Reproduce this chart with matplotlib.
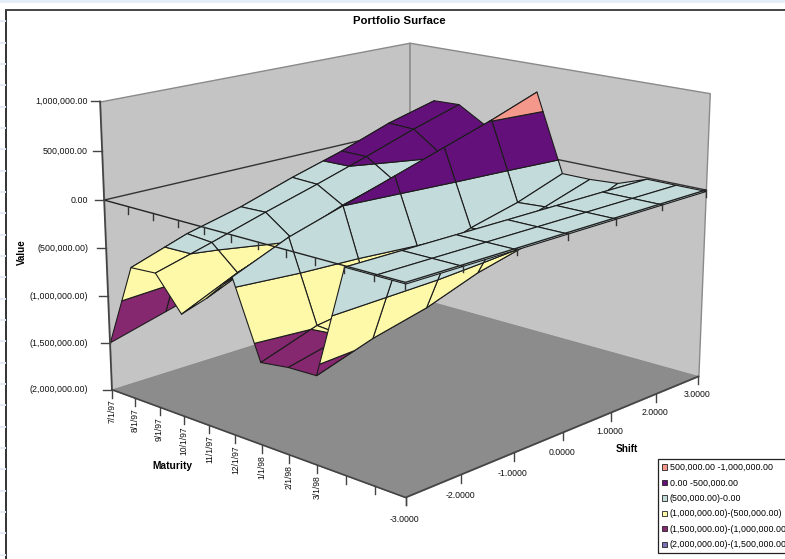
import matplotlib
matplotlib.use('Agg')
import numpy as np
import matplotlib.pyplot as plt
from matplotlib.lines import Line2D
from matplotlib.patches import Patch
from matplotlib.transforms import IdentityTransform
from mpl_toolkits.mplot3d import proj3d
from mpl_toolkits.mplot3d.art3d import Poly3DCollection

plt.rcParams['font.family'] = ['Liberation Sans', 'DejaVu Sans']

W, H = 785, 559

# maturity categories (last three have no label on the axis)
maturity_labels = ['7/1/97', '8/1/97', '9/1/97', '10/1/97', '11/1/97', '12/1/97',
                   '1/1/98', '2/1/98', '3/1/98', '', '', '']
shift_values = [-3, -2, -1, 0, 1, 2, 3]
shift_labels = ['-3.0000', '-2.0000', '-1.0000', '0.0000', '1.0000', '2.0000', '3.0000']
value_ticks = [1.0, 0.5, 0.0, -0.5, -1.0, -1.5, -2.0]
value_labels = ['1,000,000.00', '500,000.00', '0.00', '(500,000.00)',
                '(1,000,000.00)', '(1,500,000.00)', '(2,000,000.00)']

# portfolio value in millions, one row per maturity, shift -3 .. 3
m_jul97 = [-1.49, -1.33, -1.17, -1.00, -0.82, -0.62, -0.40]
m_aug97 = [-0.62, -0.42, -0.28, -0.10, 0.06, 0.25, 0.39]
m_sep97 = [-0.60, -0.44, -0.27, -0.11, 0.06, 0.24, 0.40]
m_oct97 = [-0.94, -0.68, -0.47, -0.27, -0.12, 0.04, 0.23]
m_nov97 = [-0.70, -0.45, -0.25, -0.10, 0.05, 0.20, 0.35]
m_dec97 = [-0.41, -0.17, 0.00, 0.17, 0.34, 0.51, 0.70]
m_jan98 = [-1.17, -0.98, -0.90, -0.64, -0.45, -0.32, -0.14]
m_feb98 = [-1.13, -1.00, -0.85, -0.63, -0.45, -0.30, -0.14]
m_mar98 = [-1.12, -0.94, -0.81, -0.62, -0.49, -0.32, -0.12]
m_apr98 = [-0.01, -0.01, -0.01, -0.01, -0.01, -0.01, -0.01]
m_may98 = [-0.01, -0.01, -0.01, -0.01, -0.01, -0.01, -0.01]
m_jun98 = [-0.01, -0.01, -0.01, -0.01, -0.01, -0.01, -0.01]
surface = np.array([m_jul97, m_aug97, m_sep97, m_oct97, m_nov97, m_dec97,
                    m_jan98, m_feb98, m_mar98, m_apr98, m_may98, m_jun98])

band_edges = [-2.0, -1.5, -1.0, -0.5, 0.0, 0.5, 1.0]
band_colors = ['#7a72b4', '#86286f', '#fdf9a8', '#c3dbdb', '#64107a', '#f4988c']
band_names = ['(2,000,000.00)-(1,500,000.00)', '(1,500,000.00)-(1,000,000.00)',
              '(1,000,000.00)-(500,000.00)', '(500,000.00)-0.00',
              '0.00 -500,000.00', '500,000.00 -1,000,000.00']

fig = plt.figure(figsize=(W / 100, H / 100), dpi=100, facecolor='white')

# camera fitted against the box corners of the picture
k, tx, ty = 3508.574, 407.794, 242.891
side = k * 0.185
ax = fig.add_axes([(tx - 0.095 * k) / W, (H - ty - 0.095 * k) / H, side / W, side / H],
                  projection='3d', computed_zorder=False)
ax.set_xlim(0, 11, view_margin=0)
ax.set_ylim(-3, 3, view_margin=0)
ax.set_zlim(-2, 1, view_margin=0)
ax.view_init(elev=15.7544, azim=-46.7261)
ax.set_proj_type('persp', focal_length=0.5909)
ax.set_box_aspect((1.3745, 1.4795, 1))
ax.set_axis_off()
ax.patch.set_visible(False)
ax.apply_aspect()


def clip_poly(poly, level, keep_above):
    # cut a 3d polygon at a height
    out = []
    for i in range(len(poly)):
        a, b = poly[i], poly[(i + 1) % len(poly)]
        ina = a[2] >= level if keep_above else a[2] <= level
        inb = b[2] >= level if keep_above else b[2] <= level
        if ina:
            out.append(a)
        if ina != inb:
            t = (level - a[2]) / (b[2] - a[2])
            out.append(tuple(a[j] + t * (b[j] - a[j]) for j in range(3)))
    return out


def screen(m, s, z):
    x, y, _ = proj3d.proj_transform(np.array([m]), np.array([s]), np.array([z]), ax.get_proj())
    return ax.transData.transform((float(x[0]), float(y[0])))


def px_line(xs, ys, color='#333333', lw=1.0):
    # xs, ys in pixels from the lower left corner
    fig.add_artist(Line2D(xs, ys, transform=IdentityTransform(), color=color, lw=lw, zorder=5))


# walls and floor
wall_edge = '#8a8a8a'
wall_color = '#c4c4c4'
ax.add_collection3d(Poly3DCollection([[(0, -3, -2), (0, 3, -2), (0, 3, 1), (0, -3, 1)]],
                                     facecolor=wall_color, edgecolor=wall_edge, lw=1, zorder=1))
ax.add_collection3d(Poly3DCollection([[(0, 3, -2), (11, 3, -2), (11, 3, 1), (0, 3, 1)]],
                                     facecolor=wall_color, edgecolor=wall_edge, lw=1, zorder=1))
ax.add_collection3d(Poly3DCollection([[(0, -3, -2), (11, -3, -2), (11, 3, -2), (0, 3, -2)]],
                                     facecolor='#8c8c8d', edgecolor='#8c8c8d', lw=0.5, zorder=2))
ax.plot([0, 0, 11], [-3, 3, 3], [0, 0, 0], color='#333333', lw=1.0, zorder=3)

# surface, painted from the back corner to the front corner
order = 10
for i in range(surface.shape[0] - 1):
    for j in range(surface.shape[1] - 1, 0, -1):
        cell = [(i, shift_values[j], surface[i, j]), (i + 1, shift_values[j], surface[i + 1, j]),
                (i + 1, shift_values[j - 1], surface[i + 1, j - 1]),
                (i, shift_values[j - 1], surface[i, j - 1])]
        for b in range(len(band_colors)):
            piece = clip_poly(cell, band_edges[b], True)
            if len(piece) > 2:
                piece = clip_poly(piece, band_edges[b + 1], False)
            if len(piece) > 2:
                ax.add_collection3d(Poly3DCollection([piece], facecolor=band_colors[b],
                                                     edgecolor='#1c1c1c', lw=0.8, zorder=order))
                order += 1

# axis lines at zero, in front of the surface
ax.plot([0, 11, 11], [-3, -3, 3], [0, 0, 0], color='#222222', lw=1.0, zorder=order + 1)
ax.plot([0, 0], [-3, -3], [-2, 1], color='#444444', lw=1.2, zorder=order + 1)
ax.plot([0, 11, 11], [-3, -3, 3], [-2, -2, -2], color='#444444', lw=1.2, zorder=order + 1)

for i, lab in enumerate(maturity_labels):
    x, y = screen(i, -3, -2)
    px_line([x, x], [y, y - 8], '#444444')
    x0, y0 = screen(i, -3, 0)
    if i > 0:
        px_line([x0, x0], [y0, y0 - 7], '#333333')
    if lab:
        fig.text(x / W, (y - 10) / H, lab, rotation=90, ha='center', va='top', fontsize=6.2, color='#111111')

for s, lab in zip(shift_values, shift_labels):
    x, y = screen(11, s, -2)
    px_line([x, x], [y, y - 8], '#444444')
    x0, y0 = screen(11, s, 0)
    if s > -3:
        px_line([x0, x0], [y0, y0 - 7], '#333333')
    fig.text((x - 1) / W, (y - (20 - 0.7 * s)) / H, lab, ha='center', va='center', fontsize=6.3, color='#111111')

for z, lab in zip(value_ticks, value_labels):
    x, y = screen(0, -3, z)
    px_line([x - 9, x], [y, y], '#444444')
    fig.text(88 / W, y / H, lab, ha='right', va='center', fontsize=6.4, color='#111111')

# titles
fig.text(399 / W, (H - 21) / H, 'Portfolio Surface', ha='center', va='center', fontsize=8.2, fontweight='bold')
fig.text(22 / W, (H - 252) / H, 'Value', rotation=90, ha='center', va='center', fontsize=7, fontweight='bold')
fig.text(172 / W, (H - 466) / H, 'Maturity', ha='center', va='center', fontsize=7.4, fontweight='bold')
fig.text(627 / W, (H - 449) / H, 'Shift', ha='center', va='center', fontsize=7.2, fontweight='bold')

# legend runs off the right side like the original
handles = [Patch(facecolor=c, edgecolor='#222222', lw=0.6) for c in band_colors[::-1]]
leg = fig.legend(handles, band_names[::-1], loc='upper left', bbox_to_anchor=(658 / W, (H - 459) / H),
                 fontsize=6.4, frameon=True, fancybox=False, framealpha=1, edgecolor='#222222',
                 handlelength=0.55, handleheight=0.55, handletextpad=0.35, labelspacing=0.73,
                 borderpad=0.45, borderaxespad=0)
leg.get_frame().set_linewidth(0.9)

# chart border and the bit of sheet around it
px_line([6, 6], [0, H - 10], '#333333', 1.4)
px_line([6, W], [H - 10, H - 10], '#444444', 1.4)
px_line([0, W], [H - 1, H - 1], '#e4ecf8', 2)
for row in range(1, 27):
    y = row * 21.33
    px_line([0, 5], [H - y, H - y], '#e6edf8', 1.4)

fig.savefig('out.png', dpi=100)
